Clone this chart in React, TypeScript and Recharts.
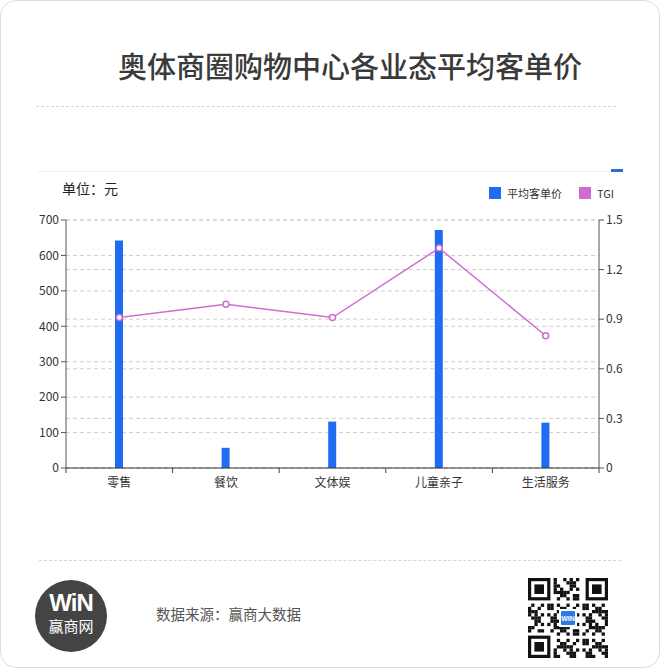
import React from 'react';
import { ComposedChart, Bar, Line, XAxis, YAxis, CartesianGrid, Legend } from 'recharts';

const categories = ['零售', '餐饮', '文体娱', '儿童亲子', '生活服务'];
const avgPrice = [642, 57, 131, 672, 128];
const tgi = [0.91, 0.99, 0.91, 1.33, 0.8];
const leftTicks = [0, 100, 200, 300, 400, 500, 600, 700];
const rightTicks = [0, 0.3, 0.6, 0.9, 1.2, 1.5];
const seriesNames = ['平均客单价', 'TGI'];

const data = categories.map((c, i) => ({ name: c, price: avgPrice[i], tgi: tgi[i] }));

const FONT = '"Noto Sans CJK SC", "Noto Sans", sans-serif';
const BLUE = '#1f6cf2';
const PINK = '#d06ccf';

const XTick = (props: any) => {
  const { x, y, payload, index, width, visibleTicksCount } = props;
  const band = width / visibleTicksCount;
  return (
    <g>
      <line x1={x - band / 2} x2={x - band / 2} y1={y} y2={y + 5} stroke="#444" />
      {index === visibleTicksCount - 1 && (
        <line x1={x + band / 2} x2={x + band / 2} y1={y} y2={y + 5} stroke="#444" />
      )}
      <text x={x} y={y + 19} textAnchor="middle" fontSize={12} fill="#333" fontFamily={FONT}>
        {payload.value}
      </text>
    </g>
  );
};

const LegendContent = (props: any) => {
  const items = [...(props.payload || [])].sort(
    (a: any, b: any) => seriesNames.indexOf(a.value) - seriesNames.indexOf(b.value)
  );
  return (
    <div style={{ display: 'flex', alignItems: 'center', fontFamily: FONT, fontSize: 11, color: '#333' }}>
      {items.map((p: any, i: number) => (
        <div key={i} style={{ display: 'flex', alignItems: 'center', marginRight: i === 0 ? 17 : 0 }}>
          <div style={{ width: 12, height: 12, background: p.color, marginRight: 6 }} />
          <span style={{ lineHeight: '12px' }}>{p.value}</span>
        </div>
      ))}
    </div>
  );
};

const QR = () => {
  const n = 25;
  const m = 80 / n;
  const cells: React.ReactNode[] = [];
  const inFinder = (i: number, j: number) =>
    (i < 8 && j < 8) || (i < 8 && j >= n - 8) || (i >= n - 8 && j < 8);
  for (let i = 0; i < n; i++) {
    for (let j = 0; j < n; j++) {
      if (inFinder(i, j)) continue;
      if ((i * 31 + j * 17 + i * j * 7) % 11 < 5) {
        cells.push(<rect key={`${i}-${j}`} x={j * m} y={i * m} width={m + 0.1} height={m + 0.1} fill="#111" />);
      }
    }
  }
  const finder = (fx: number, fy: number) => (
    <g key={`f${fx}-${fy}`}>
      <rect x={fx * m} y={fy * m} width={7 * m} height={7 * m} fill="#111" />
      <rect x={(fx + 1) * m} y={(fy + 1) * m} width={5 * m} height={5 * m} fill="#fff" />
      <rect x={(fx + 2) * m} y={(fy + 2) * m} width={3 * m} height={3 * m} fill="#111" />
    </g>
  );
  return (
    <svg width={80} height={80} style={{ position: 'absolute', left: 527, top: 577 }}>
      <rect width={80} height={80} fill="#fff" />
      {cells}
      {finder(0, 0)}
      {finder(n - 7, 0)}
      {finder(0, n - 7)}
      <rect x={31} y={31} width={18} height={18} fill="#fff" />
      <rect x={33} y={33} width={14} height={14} fill="#2a7be4" rx={1} />
      <text x={40} y={43} textAnchor="middle" fontSize={7} fontWeight="bold" fill="#fff" fontFamily="Liberation Sans">WIN</text>
    </svg>
  );
};

export default function App() {
  return (
    <div
      style={{
        position: 'absolute',
        left: 0,
        top: 0,
        width: 660,
        height: 668,
        boxSizing: 'border-box',
        border: '1px solid #dcdcdc',
        borderRadius: 16,
        background: '#fff',
        fontFamily: FONT,
        overflow: 'hidden',
      }}
    >
      <div
        style={{
          position: 'absolute',
          left: 0,
          top: 46,
          width: 698,
          textAlign: 'center',
          fontSize: 29,
          fontWeight: 500,
          color: '#3a3a3a',
          lineHeight: '36px',
          whiteSpace: 'nowrap',
        }}
      >
        奥体商圈购物中心各业态平均客单价
      </div>
      <div style={{ position: 'absolute', left: 35, top: 105, width: 580, borderTop: '1px dashed #d6d6d6' }} />
      <div style={{ position: 'absolute', left: 37, top: 170, width: 578, borderTop: '1px solid #eeeeee' }} />
      <div style={{ position: 'absolute', left: 610, top: 168, width: 12, height: 3, background: '#2f6fd6' }} />
      <div style={{ position: 'absolute', left: 61, top: 177, fontSize: 14, color: '#222', lineHeight: '20px' }}>
        单位：元
      </div>

      <div style={{ position: 'absolute', left: 0, top: 0 }}>
        <ComposedChart width={660} height={500} data={data} margin={{ top: 219, right: 22, bottom: 3, left: 25 }}>
          <CartesianGrid yAxisId="left" vertical={false} stroke="#cfcfcf" strokeDasharray="4 3" />
          <CartesianGrid yAxisId="right" vertical={false} stroke="#cfcfcf" strokeDasharray="4 3" />
          <XAxis
            dataKey="name"
            height={30}
            tickLine={false}
            tickSize={0}
            tickMargin={0}
            tick={<XTick />}
            axisLine={{ stroke: '#333' }}
            interval={0}
          />
          <YAxis
            yAxisId="left"
            orientation="left"
            width={40}
            domain={[0, 700]}
            ticks={leftTicks}
            tickSize={5}
            tickMargin={2}
            tick={{ fontSize: 12, fill: '#333', fontFamily: FONT }}
            axisLine={{ stroke: '#555' }}
            tickLine={{ stroke: '#555' }}
            interval={0}
          />
          <YAxis
            yAxisId="right"
            orientation="right"
            width={40}
            domain={[0, 1.5]}
            ticks={rightTicks}
            tickSize={5}
            tickMargin={2}
            tick={{ fontSize: 12, fill: '#333', fontFamily: FONT }}
            axisLine={{ stroke: '#555' }}
            tickLine={{ stroke: '#555' }}
            interval={0}
          />
          <Legend
            layout="horizontal"
            verticalAlign="middle"
            align="center"
            content={<LegendContent />}
            wrapperStyle={{ position: 'absolute', top: 186, left: 488, width: 150, height: 12 }}
          />
          <Bar yAxisId="left" dataKey="price" name="平均客单价" fill={BLUE} barSize={8} isAnimationActive={false} />
          <Line
            yAxisId="right"
            dataKey="tgi"
            name="TGI"
            stroke={PINK}
            strokeWidth={1.5}
            dot={{ r: 3, fill: '#fff', stroke: PINK, strokeWidth: 1.5 }}
            activeDot={false}
            isAnimationActive={false}
            type="linear"
          />
        </ComposedChart>
      </div>

      <div style={{ position: 'absolute', left: 38, top: 559, width: 582, borderTop: '1px dashed #d6d6d6' }} />

      <div
        style={{
          position: 'absolute',
          left: 34,
          top: 579,
          width: 72,
          height: 72,
          borderRadius: 36,
          background: '#444',
          color: '#fff',
          textAlign: 'center',
        }}
      >
        <div style={{ position: 'absolute', top: 10, width: 72, fontFamily: 'Liberation Sans, Arial', fontWeight: 900, fontSize: 24, lineHeight: '26px', letterSpacing: -1 }}>
          WiN
        </div>
        <div style={{ position: 'absolute', top: 37, width: 72, fontSize: 15, lineHeight: '18px' }}>赢商网</div>
      </div>
      <div style={{ position: 'absolute', left: 155, top: 603, fontSize: 14.5, color: '#555', lineHeight: '20px', whiteSpace: 'nowrap' }}>
        数据来源：赢商大数据
      </div>
      <QR />
    </div>
  );
}
